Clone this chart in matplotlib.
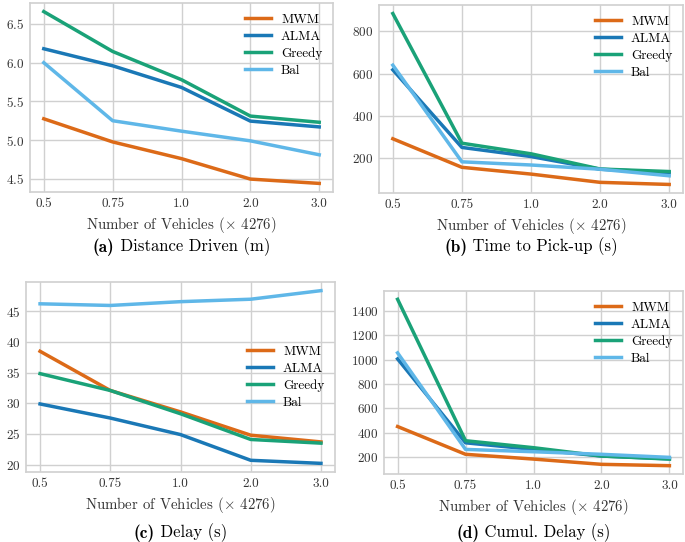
import numpy as np
import matplotlib
matplotlib.use('Agg')
import matplotlib.pyplot as plt
from matplotlib.ticker import MultipleLocator

# shared x categories
vehicles = ['0.5', '0.75', '1.0', '2.0', '3.0']
methods = ['MWM', 'ALMA', 'Greedy', 'Bal']
colors = ['#dc6a18', '#1a78b6', '#1aa278', '#5fb7e8']

# (a) distance driven (m)
dist_mwm = [5.275e7, 4.976e7, 4.76e7, 4.496e7, 4.44e7]
dist_alma = [6.18e7, 5.96e7, 5.68e7, 5.245e7, 5.17e7]
dist_greedy = [6.66e7, 6.145e7, 5.78e7, 5.31e7, 5.23e7]
dist_bal = [6.0e7, 5.25e7, 5.115e7, 4.99e7, 4.81e7]

# (b) time to pick-up (s)
pick_mwm = [292, 157, 125, 86, 76]
pick_alma = [618, 251, 208, 148, 132]
pick_greedy = [884, 271, 221, 149, 137]
pick_bal = [640, 183, 168, 148, 117]

# (c) delay (s)
delay_mwm = [38.5, 32.1, 28.6, 24.8, 23.7]
delay_alma = [29.9, 27.6, 24.9, 20.7, 20.2]
delay_greedy = [34.85, 32.1, 28.3, 24.1, 23.5]
delay_bal = [46.25, 45.98, 46.6, 47.0, 48.4]

# (d) cumulative delay (s)
cum_mwm = [452, 225, 186, 143, 132]
cum_alma = [1005, 319, 265, 211, 188]
cum_greedy = [1492, 336, 279, 211, 186]
cum_bal = [1054, 265, 246, 225, 200]

plt.rcParams['font.family'] = 'cmr10'
plt.rcParams['mathtext.fontset'] = 'cm'
plt.rcParams['axes.formatter.use_mathtext'] = True


def draw_panel(ax, series, legend_loc):
    x = np.arange(len(vehicles))
    for vals, name, c in zip(series, methods, colors):
        ax.plot(x, vals, color=c, lw=2.5, label=name)
    ax.set_xticks(x)
    ax.set_xticklabels(vehicles)
    ax.grid(True, color='#d0d0d0', lw=1.0)
    ax.set_axisbelow(True)
    for s in ax.spines.values():
        s.set_color('#d0d0d0')
        s.set_linewidth(1.2)
    ax.tick_params(length=0, labelsize=9.5, labelcolor='#333333', pad=4)
    ax.yaxis.get_offset_text().set_fontsize(9)
    ax.yaxis.get_offset_text().set_color('#333333')
    ax.set_xlabel(r'Number of Vehicles ($\times$ 4276)', fontsize=10.7,
                  color='#333333', labelpad=4)
    ax.legend(loc=legend_loc, frameon=False, fontsize=9.5, handlelength=1.9,
              labelspacing=0.35, borderaxespad=0.4)


fig = plt.figure(figsize=(6.85, 5.42), dpi=100)
W, H = 685.0, 542.0


def box(l, r, t, b):
    return [l / W, 1 - b / H, (r - l) / W, (b - t) / H]


ax_a = fig.add_axes(box(30, 333, 3, 192))
ax_b = fig.add_axes(box(379, 683, 5, 193))
ax_c = fig.add_axes(box(26, 335, 282, 472))
ax_d = fig.add_axes(box(384, 683, 291, 474))

draw_panel(ax_a, [dist_mwm, dist_alma, dist_greedy, dist_bal], 'upper right')
draw_panel(ax_b, [pick_mwm, pick_alma, pick_greedy, pick_bal], 'upper right')
draw_panel(ax_c, [delay_mwm, delay_alma, delay_greedy, delay_bal], 'center right')
draw_panel(ax_d, [cum_mwm, cum_alma, cum_greedy, cum_bal], 'upper right')
ax_d.yaxis.set_major_locator(MultipleLocator(200))

captions = [(ax_a, '(a)', 'Distance Driven (m)', 247),
            (ax_b, '(b)', 'Time to Pick-up (s)', 247),
            (ax_c, '(c)', 'Delay (s)', 533),
            (ax_d, '(d)', 'Cumul. Delay (s)', 533)]

# bold tag + regular text, centred together under each panel
pairs = []
for ax, tag, txt, ypix in captions:
    y = 1 - ypix / H
    t1 = fig.text(0, y, tag, fontfamily='cmb10', fontsize=12.5, va='center', ha='left')
    t2 = fig.text(0, y, ' ' + txt, fontsize=12, va='center', ha='left')
    pairs.append((ax, t1, t2))

fig.canvas.draw()
r = fig.canvas.get_renderer()
for ax, t1, t2 in pairs:
    w1 = t1.get_window_extent(r).width / W
    w2 = t2.get_window_extent(r).width / W
    pos = ax.get_position()
    xc = pos.x0 + pos.width / 2
    x0 = xc - (w1 + w2) / 2
    t1.set_x(x0)
    t2.set_x(x0 + w1)

fig.savefig('out.png', dpi=100)
